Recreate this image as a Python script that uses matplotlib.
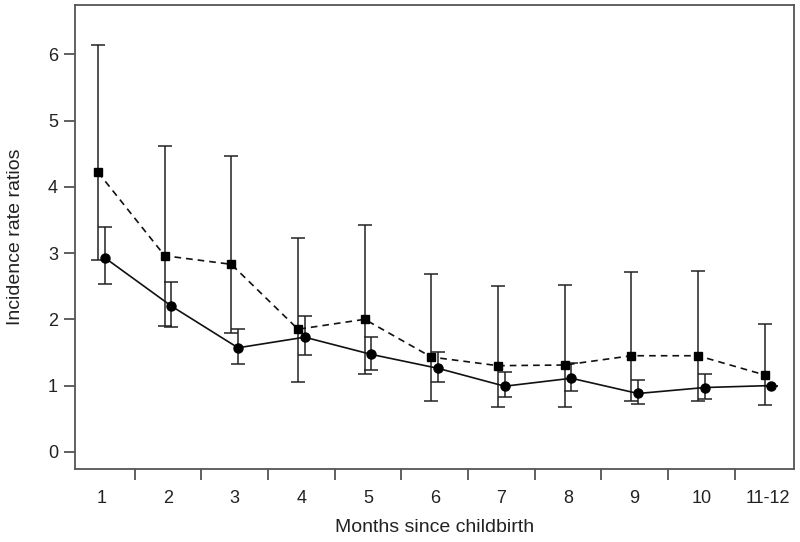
import matplotlib
matplotlib.use("Agg")
import matplotlib.pyplot as plt
import numpy as np

plt.rcParams['font.family'] = ['Liberation Sans', 'DejaVu Sans']

categories = ["1", "2", "3", "4", "5", "6", "7", "8", "9", "10", "11-12"]

# dashed series (squares)
sq_val = [4.22, 2.96, 2.83, 1.85, 2.00, 1.43, 1.30, 1.31, 1.45, 1.45, 1.16]
sq_lo = [2.90, 1.90, 1.80, 1.06, 1.17, 0.76, 0.67, 0.67, 0.77, 0.77, 0.71]
sq_hi = [6.14, 4.61, 4.46, 3.23, 3.42, 2.69, 2.51, 2.52, 2.72, 2.73, 1.93]

# solid series (circles)
ci_val = [2.93, 2.20, 1.57, 1.73, 1.47, 1.26, 0.99, 1.11, 0.88, 0.97, 1.00]
ci_lo = [2.53, 1.89, 1.32, 1.46, 1.23, 1.05, 0.83, 0.92, 0.72, 0.80, 1.00]
ci_hi = [3.39, 2.57, 1.86, 2.05, 1.74, 1.51, 1.20, 1.34, 1.08, 1.18, 1.00]

fig = plt.figure(figsize=(8, 5.42), dpi=100)
ax = fig.add_axes([0.0934, 0.1347, 0.8991, 0.8566])

x = np.arange(1, len(categories) + 1)
sq_val_a = np.array(sq_val); ci_val_a = np.array(ci_val)
sq_err = [sq_val_a - np.array(sq_lo), np.array(sq_hi) - sq_val_a]
ci_err = [ci_val_a - np.array(ci_lo), np.array(ci_hi) - ci_val_a]

ecol = '#222222'
ax.errorbar(x - 0.05, sq_val, yerr=sq_err, fmt='none', ecolor=ecol,
            elinewidth=1.1, capsize=5, capthick=1.1, zorder=2)
ax.errorbar(x + 0.05, ci_val, yerr=ci_err, fmt='none', ecolor=ecol,
            elinewidth=1.1, capsize=5, capthick=1.1, zorder=2)
ax.plot(x - 0.05, sq_val, linestyle=(0, (4, 3)), color='#111111', lw=1.2,
        marker='s', ms=6, mfc='black', mec='black', zorder=3)
ax.plot(x + 0.05, ci_val, linestyle='-', color='#111111', lw=1.2,
        marker='o', ms=6.5, mfc='black', mec='black', zorder=3)

ax.set_xlim(0.6, 11.39)
ax.set_ylim(-0.26, 6.75)
ax.set_yticks(range(0, 7))
ax.set_xticks(x)
ax.set_xticklabels(categories)
ax.set_xticks(np.arange(1.5, 11.5, 1.0), minor=True)
ax.tick_params(axis='x', which='major', length=0, pad=15, labelsize=13, colors='#222222')
ax.tick_params(axis='x', which='minor', length=8, width=1.2, color='#444444')
ax.tick_params(axis='y', length=8, width=1.2, color='#444444', labelsize=13,
               labelcolor='#222222', pad=4)
for s in ax.spines.values():
    s.set_color('#555555')
    s.set_linewidth(1.3)

ax.set_ylabel('Incidence rate ratios', fontsize=14, color='#222222')
ax.set_xlabel('Months since childbirth', fontsize=14, color='#222222')
ax.yaxis.set_label_coords(-0.082, 0.5)
ax.xaxis.set_label_coords(0.5, -0.127)
ax.xaxis.label.set_va('center')
ax.yaxis.label.set_va('center')

fig.savefig('out.png', dpi=100)
